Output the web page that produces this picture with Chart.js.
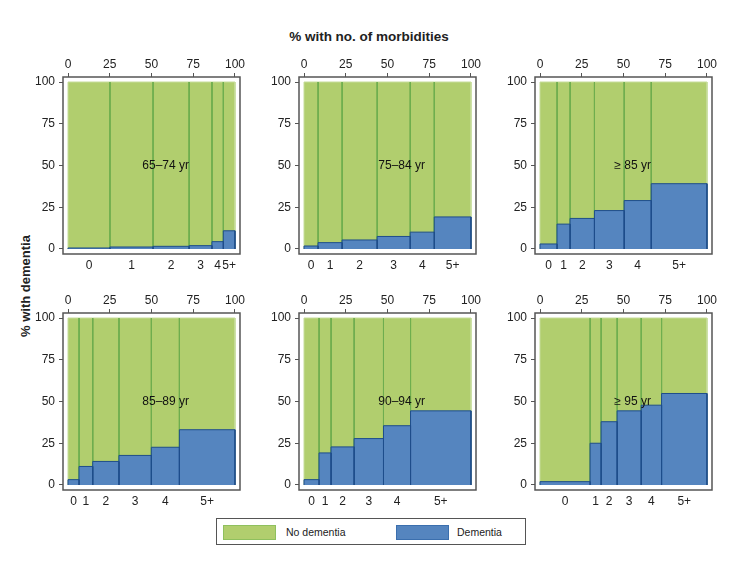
<!DOCTYPE html>
<html>
<head>
<meta charset="utf-8">
<script src="https://cdn.jsdelivr.net/npm/chart.js@4.4.1/dist/chart.umd.min.js"></script>
<style>
  body { margin: 0; background: #fff; font-family: "Liberation Sans", Arial, sans-serif; color: #222; }
  #wrap { position: relative; width: 737px; height: 581px; overflow: hidden; }
  canvas { position: absolute; }
  #xtitle { position: absolute; left: 369px; top: 36px; transform: translate(-50%, -50%); font-weight: bold; font-size: 13.5px; white-space: nowrap; }
  #ytitle { position: absolute; left: 25px; top: 286px; transform: translate(-50%, -50%) rotate(-90deg); font-weight: bold; font-size: 13px; white-space: nowrap; }
  #legend { position: absolute; left: 216px; top: 518px; width: 308px; height: 25px; border: 1px solid #555; font-size: 10.5px; }
  #legend .sw { position: absolute; top: 6px; width: 51px; height: 13px; }
  #legend .lb { position: absolute; top: 0; line-height: 26px; }
</style>
</head>
<body>
<div id="wrap">
  <div id="xtitle">% with no. of morbidities</div>
  <div id="ytitle">% with dementia</div>
  <div id="legend">
    <div class="sw" style="left:6px;background:#b1ce6e;border:1px solid #8fc05e"></div>
    <div class="lb" style="left:69px">No dementia</div>
    <div class="sw" style="left:179px;background:#5585bf;border:1px solid #3b6fae"></div>
    <div class="lb" style="left:240px">Dementia</div>
  </div>
</div>
<script>
// categories and labels
const categories = ['0', '1', '2', '3', '4', '5+'];
const ageGroups = ['65–74 yr', '75–84 yr', '≥ 85 yr', '85–89 yr', '90–94 yr', '≥ 95 yr'];
const xTicks = [0, 25, 50, 75, 100];
const yTicks = [0, 25, 50, 75, 100];

// % of people with each no. of morbidities (bar widths)
const morb65_74 = [25.1, 25.8, 21.6, 13.7, 6.8, 7.0];
const morb75_84 = [8.4, 14.4, 21.0, 19.8, 14.4, 22.0];
const morb85up  = [10.2, 7.8, 14.6, 17.8, 16.2, 33.4];
const morb85_89 = [6.6, 8.2, 15.7, 19.4, 16.8, 33.3];
const morb90_94 = [9.0, 7.2, 13.8, 17.6, 16.2, 36.2];
const morb95up  = [30.0, 6.6, 9.6, 14.4, 12.2, 27.2];

// % with dementia in each group (bar heights)
const dem65_74 = [0.6, 1.2, 1.6, 2.0, 4.4, 10.9];
const dem75_84 = [1.8, 3.8, 5.4, 7.5, 10.1, 19.2];
const dem85up  = [3.0, 14.9, 18.3, 23.0, 29.0, 39.1];
const dem85_89 = [3.2, 11.1, 14.1, 17.7, 22.6, 33.1];
const dem90_94 = [3.2, 19.2, 22.8, 27.8, 35.5, 44.4];
const dem95up  = [2.0, 25.0, 37.9, 44.4, 47.8, 54.8];

const widthsList = [morb65_74, morb75_84, morb85up, morb85_89, morb90_94, morb95up];
const demList = [dem65_74, dem75_84, dem85up, dem85_89, dem90_94, dem95up];

const green = '#b1ce6e', greenLine = '#6fae4f', greenEdge = '#c6dc9a';
const blue = '#5585bf', blueLine = '#1e4d8b';
const frameColor = '#555';

Chart.defaults.font.family = '"Liberation Sans", Arial, sans-serif';
Chart.defaults.font.size = 12;
Chart.defaults.color = '#222';

// layout of the 6 panels (plot area corners)
const colLeft = [63, 299, 535];
const rowTop = [77, 313];
const yAxisW = 58, topAxisH = 36, bottomAxisH = 24, rightPad = 14, areaSize = 177;

function makeDatasets(widths, dem) {
  let sets = [];
  let x0 = 0;
  let n = widths.length;
  widths.forEach((w, i) => {
    let x1 = x0 + w;
    sets.push({
      label: 'No dementia',
      data: [{x: x0, y: 0}, {x: x0, y: 100}, {x: x1, y: 100}, {x: x1, y: 0}],
      fill: 'origin',
      backgroundColor: green,
      borderColor: greenLine,
      borderWidth: 1,
      order: 1,
      segment: {
        borderColor: ctx => {
          if (ctx.p0DataIndex === 1) return greenEdge;
          if (ctx.p0DataIndex === 0 && i === 0) return greenEdge;
          if (ctx.p0DataIndex === 2 && i === n - 1) return greenEdge;
          return greenLine;
        }
      }
    });
    sets.push({
      label: 'Dementia',
      data: [{x: x0, y: 0}, {x: x0, y: dem[i]}, {x: x1, y: dem[i]}, {x: x1, y: 0}],
      fill: 'origin',
      backgroundColor: blue,
      borderColor: blueLine,
      borderWidth: 1,
      order: 0
    });
    x0 = x1;
  });
  return sets;
}

function midpoints(widths) {
  let out = [];
  let x0 = 0;
  widths.forEach(w => { out.push(x0 + w / 2); x0 += w; });
  return out;
}

// panel label inside the plot
const panelLabel = {
  id: 'panelLabel',
  afterDatasetsDraw(chart, args, opts) {
    const {ctx, scales} = chart;
    ctx.save();
    ctx.font = '12px "Liberation Sans", Arial, sans-serif';
    ctx.fillStyle = '#111';
    ctx.textAlign = 'left';
    ctx.textBaseline = 'middle';
    ctx.fillText(opts.text, scales.x.getPixelForValue(44.5), scales.y.getPixelForValue(50));
    ctx.restore();
  }
};

// box round the plot
const frame = {
  id: 'frame',
  afterDraw(chart) {
    const {ctx, chartArea} = chart;
    ctx.save();
    ctx.strokeStyle = frameColor;
    ctx.lineWidth = 1.5;
    ctx.strokeRect(chartArea.left, chartArea.top, chartArea.right - chartArea.left, chartArea.bottom - chartArea.top);
    ctx.restore();
  }
};

const wrap = document.getElementById('wrap');

ageGroups.forEach((name, p) => {
  let col = p % 3, row = Math.floor(p / 3);
  let canvas = document.createElement('canvas');
  canvas.width = yAxisW + areaSize + rightPad;
  canvas.height = topAxisH + areaSize + bottomAxisH;
  canvas.style.left = (colLeft[col] - yAxisW) + 'px';
  canvas.style.top = (rowTop[row] - topAxisH) + 'px';
  wrap.appendChild(canvas);

  let widths = widthsList[p];
  let mids = midpoints(widths);

  new Chart(canvas.getContext('2d'), {
    type: 'line',
    data: { datasets: makeDatasets(widths, demList[p]) },
    plugins: [panelLabel, frame],
    options: {
      responsive: false,
      animation: false,
      events: [],
      layout: { padding: { left: 0, top: 0, right: rightPad, bottom: 0 } },
      elements: { point: { radius: 0, hitRadius: 0 }, line: { tension: 0 } },
      plugins: {
        legend: { display: false },
        tooltip: { enabled: false },
        panelLabel: { text: name }
      },
      scales: {
        x: {
          type: 'linear',
          position: 'top',
          min: -3,
          max: 103,
          afterBuildTicks: s => { s.ticks = xTicks.map(v => ({value: v})); },
          afterFit: s => { s.height = topAxisH; s.paddingLeft = 0; s.paddingRight = 0; },
          grid: { drawOnChartArea: false, tickLength: 4, color: frameColor, tickWidth: 1 },
          border: { display: false },
          ticks: { padding: 1, maxRotation: 0, autoSkip: false }
        },
        cat: {
          type: 'linear',
          position: 'bottom',
          min: -3,
          max: 103,
          afterBuildTicks: s => { s.ticks = mids.map(v => ({value: v})); },
          afterFit: s => { s.height = bottomAxisH; s.paddingLeft = 0; s.paddingRight = 0; },
          grid: { display: false, drawTicks: false, tickLength: 0 },
          border: { display: false },
          ticks: { padding: 4, maxRotation: 0, autoSkip: false, callback: (v, i) => categories[i] }
        },
        y: {
          type: 'linear',
          min: -3,
          max: 103,
          afterBuildTicks: s => { s.ticks = yTicks.map(v => ({value: v})); },
          afterFit: s => { s.width = yAxisW; s.paddingTop = 0; s.paddingBottom = 0; },
          grid: { drawOnChartArea: false, tickLength: 4, color: frameColor, tickWidth: 1 },
          border: { display: false },
          ticks: { padding: 4, autoSkip: false }
        }
      }
    }
  });
});
</script>
</body>
</html>
